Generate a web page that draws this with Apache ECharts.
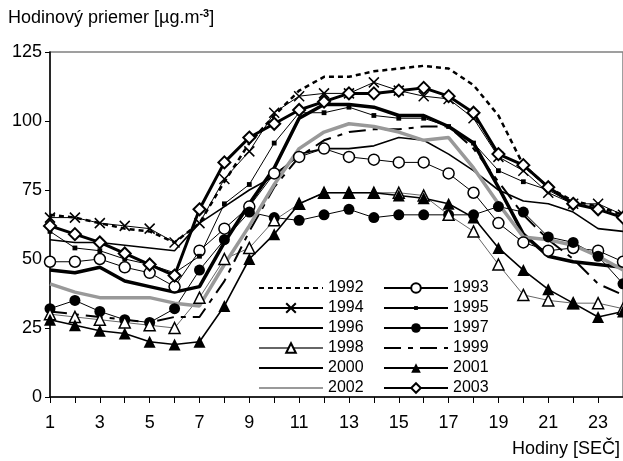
<!DOCTYPE html>
<html>
<head>
<meta charset="utf-8">
<script src="https://cdn.jsdelivr.net/npm/echarts@6/dist/echarts.min.js"></script>
<style>
  html, body { margin: 0; padding: 0; background: #fff; }
  #chart { width: 623px; height: 461px; }
</style>
</head>
<body>
<div id="chart"></div>
<script>
const hours = [1, 2, 3, 4, 5, 6, 7, 8, 9, 10, 11, 12, 13, 14, 15, 16, 17, 18, 19, 20, 21, 22, 23, 24];

const y1992 = [66, 65, 63, 61, 60, 56, 63, 78, 92, 102, 111, 116, 116, 118, 119, 120, 119, 113, 102, 84, 76, 71, 69, 66];
const y1993 = [49, 49, 50, 47, 45, 40, 53, 61, 69, 81, 87, 90, 87, 86, 85, 85, 81, 74, 63, 56, 53, 54, 53, 49];
const y1994 = [65, 65, 63, 62, 61, 56, 63, 79, 89, 103, 109, 110, 110, 114, 111, 109, 108, 101, 87, 82, 74, 70, 70, 66];
const y1995 = [60, 54, 53, 50, 48, 45, 51, 70, 77, 92, 103, 103, 105, 102, 101, 101, 98, 92, 82, 78, 75, 70, 68, 65];
const y1996 = [57, 56, 56, 55, 54, 53, 63, 69, 75, 80, 88, 90, 90, 91, 94, 93, 88, 82, 75, 71, 70, 67, 61, 60];
const y1997 = [32, 35, 31, 28, 27, 32, 46, 57, 67, 65, 64, 66, 68, 65, 66, 66, 66, 66, 69, 67, 58, 56, 51, 41];
const y1998 = [30, 29, 28, 27, 26, 25, 36, 50, 54, 64, 70, 74, 74, 74, 74, 73, 66, 60, 48, 37, 35, 34, 34, 32];
const y1999 = [31, 30, 29, 28, 27, 29, 29, 42, 60, 76, 87, 93, 96, 97, 97, 98, 98, 90, 78, 66, 57, 50, 41, 37];
const y2000 = [46, 45, 47, 42, 40, 38, 40, 56, 70, 83, 101, 106, 106, 105, 102, 102, 98, 92, 76, 59, 51, 49, 48, 47];
const y2001 = [28, 26, 24, 23, 20, 19, 20, 33, 50, 59, 70, 74, 74, 74, 73, 72, 70, 65, 54, 46, 39, 34, 29, 31];
const y2002 = [41, 38, 36, 36, 36, 34, 33, 48, 62, 77, 90, 96, 99, 98, 96, 93, 94, 83, 70, 58, 57, 55, 51, 46];
const y2003 = [62, 59, 56, 52, 48, 44, 68, 85, 94, 99, 104, 107, 110, 110, 111, 112, 109, 103, 88, 84, 76, 70, 68, 65];

const yTicks = [0, 25, 50, 75, 100, 125];

const font = 'Liberation Sans, Arial, sans-serif';

function pts(arr) {
  return hours.map((h, i) => [h, arr[i]]);
}

// marker looks
const openMark = { color: '#fff', borderColor: '#000', borderWidth: 1.5 };
const fillMark = { color: '#000', borderColor: '#000', borderWidth: 0 };
const crossPath = 'path://M0,0L10,10M10,0L0,10';
// small square centred in a bigger box, so legend icon stays small too
const smallSquare = 'path://M0,0M10,10M3,3h4v4h-4z';
// invisible marker: legend would otherwise fall back to a circle
const noMark = 'path://M0,0L1,1';
const noMarkStyle = { color: 'rgba(0,0,0,0)', borderColor: 'rgba(0,0,0,0)', borderWidth: 0 };

function line(name, data, lineStyle, symbol, symbolSize, itemStyle) {
  return {
    name: name,
    type: 'line',
    data: pts(data),
    symbol: symbol || noMark,
    symbolSize: symbolSize || 1,
    showSymbol: !!symbol,
    lineStyle: Object.assign({ color: '#000', width: 1 }, lineStyle),
    itemStyle: itemStyle || noMarkStyle,
    emphasis: { disabled: true },
    z: 2
  };
}

const series = [
  line('1992', y1992, { width: 2.5, type: [5, 4] }),
  line('1993', y1993, { width: 1 }, 'circle', 11, openMark),
  line('1994', y1994, { width: 1 }, crossPath, 10, { color: '#000', borderColor: '#000', borderWidth: 1.5 }),
  line('1995', y1995, { width: 1 }, smallSquare, 12, fillMark),
  line('1996', y1996, { width: 1.6 }),
  line('1997', y1997, { width: 1 }, 'circle', 11, fillMark),
  line('1998', y1998, { width: 1, color: '#666' }, 'triangle', 11, openMark),
  line('1999', y1999, { width: 2, type: [17, 7, 5, 7] }),
  line('2000', y2000, { width: 3.5 }),
  line('2001', y2001, { width: 1.6 }, 'triangle', 12, fillMark),
  line('2002', y2002, { width: 3.5, color: '#999' }),
  line('2003', y2003, { width: 3 }, 'diamond', 12, { color: '#fff', borderColor: '#000', borderWidth: 2 })
];

const chart = echarts.init(document.getElementById('chart'), null, { renderer: 'canvas' });

const legendBase = {
  orient: 'vertical',
  top: 280,
  padding: 0,
  itemWidth: 64,
  itemHeight: 12,
  itemGap: 4,
  selectedMode: false,
  textStyle: { fontFamily: font, fontSize: 16, color: '#000' }
};

let option = {
  animation: false,
  textStyle: { fontFamily: font },
  title: [
    {
      text: '{a|Hodinový priemer [µg.m}{s|-3}{a|]}',
      left: 8,
      top: 8,
      padding: 0,
      textStyle: {
        rich: {
          a: { fontFamily: font, fontSize: 18, color: '#000', fontWeight: 'normal' },
          s: { fontFamily: font, fontSize: 11, color: '#000', verticalAlign: 'top', padding: [0, 0, 10, 0] }
        }
      }
    },
    {
      text: 'Hodiny [SEČ]',
      left: 512,
      top: 440,
      padding: 0,
      textStyle: { fontFamily: font, fontSize: 18, color: '#000', fontWeight: 'normal' }
    }
  ],
  legend: [
    Object.assign({}, legendBase, { left: 258, data: ['1992', '1994', '1996', '1998', '2000', '2002'] }),
    Object.assign({}, legendBase, { left: 383, data: ['1993', '1995', '1997', '1999', '2001', '2003'] })
  ],
  grid: {
    left: 50,
    top: 52,
    right: -2,
    bottom: 64,
    show: true,
    borderColor: '#808080',
    borderWidth: 1.5
  },
  xAxis: {
    type: 'value',
    min: 1,
    max: 24,
    interval: 1,
    axisLine: { lineStyle: { color: '#000', width: 1.5 } },
    axisTick: { length: 6, lineStyle: { color: '#000', width: 1 } },
    axisLabel: {
      margin: 17,
      fontSize: 18,
      color: '#000',
      fontFamily: font,
      showMaxLabel: false,
      formatter: function (v) { return v % 2 === 1 ? String(v) : ''; }
    },
    splitLine: { show: false }
  },
  yAxis: {
    type: 'value',
    min: yTicks[0],
    max: yTicks[yTicks.length - 1],
    interval: 25,
    axisLine: { show: true, lineStyle: { color: '#000', width: 1.5 } },
    axisTick: { show: true, length: 5, lineStyle: { color: '#000', width: 1 } },
    axisLabel: { margin: 8, fontSize: 18, color: '#000', fontFamily: font },
    splitLine: { show: false }
  },
  series: series
};

chart.setOption(option);
</script>
</body>
</html>
